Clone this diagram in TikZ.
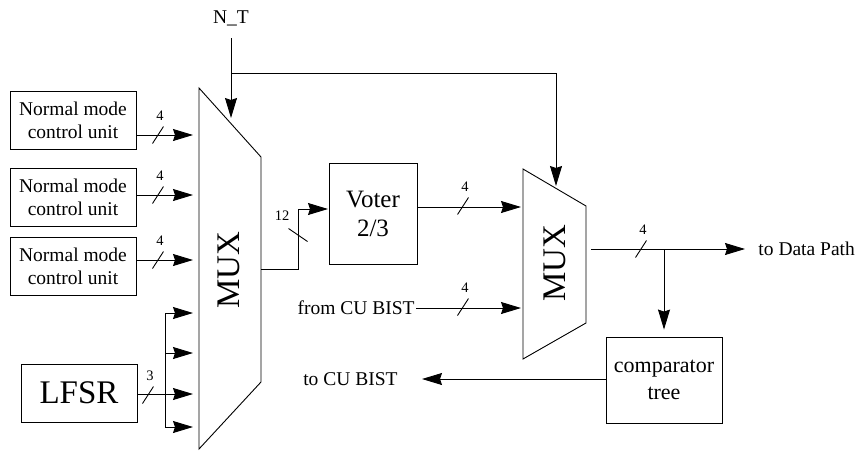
\documentclass[tikz,border=0pt]{standalone}
\usepackage{fontspec}
\setmainfont{Liberation Serif}
\usepackage{tikz}
\usetikzlibrary{arrows.meta, positioning, calc}
\def\slashW{5.5}
\def\slashH{8.5}
\newcommand{\busmark}[3]{%
% #1 = point on the bus, #2 = width, #3 = kind (1=slash, 2=backslash)

\ifnum#3=1
\draw
($(#1)+(-\slashW,\slashH)$) -- ($(#1)+(\slashW,-\slashH)$);
\node[buslabel] at ($(#1)+(2,-19)$) {#2};
\fi

% slash on a vertical bus
\ifnum#3=2
\draw
($(#1)+(-9.5,-6.5)$) -- ($(#1)+(9.5,6.5)$);
\node[buslabel] at ($(#1)+(-16,-19)$) {#2};
\fi
}

\begin{document}
\begin{tikzpicture}[
    x=1pt, y=-1pt,
    line width=0.9pt,
    >={Stealth[length=20pt,width=12pt,inset=2pt]},
    unit/.style={draw, rectangle, align=center, inner sep=0pt},
    cu/.style={unit, minimum width=126, minimum height=58, font=\fontsize{19.5}{23}\selectfont},
    buslabel/.style={inner sep=0pt, font=\fontsize{14.5}{16}\selectfont},
    txt/.style={inner sep=1pt, font=\fontsize{19.5}{23}\selectfont},
    muxtxt/.style={rotate=90, inner sep=0pt, font=\fontsize{33}{36}\selectfont}
]
\useasboundingbox (0,0) rectangle (858,450);

\node[cu] (cu1) at (73,120) {Normal mode\\control unit};
\node[cu] (cu2) at (73,197) {Normal mode\\control unit};
\node[cu] (cu3) at (73,266) {Normal mode\\control unit};
\node[unit, minimum width=116, minimum height=58, font=\fontsize{33}{36}\selectfont] (lfsr) at (79,393) {LFSR};
\node[unit, minimum width=88, minimum height=101, font=\fontsize{25}{29}\selectfont] (voter) at (373,213.5) {Voter\\2/3};
\node[unit, minimum width=116, minimum height=86, font=\fontsize{22}{27}\selectfont] (cmp) at (664,380) {comparator\\tree};

% the two multiplexers
\draw (199,88) -- (261,157) -- (261,382) -- (199,449) -- cycle;
\node[muxtxt] (mux1) at (229,270) {MUX};
\draw (523,169) -- (586,206) -- (586,323) -- (523,359) -- cycle;
\node[muxtxt] (mux2) at (555,263) {MUX};

\coordinate (in1) at (193,135);
\coordinate (in2) at (193,195);
\coordinate (in3) at (193,260);
\draw[->] (cu1.east |- in1) -- (in1);
\draw[->] (cu2.east |- in2) -- (in2);
\draw[->] (cu3.east |- in3) -- (in3);
\busmark{158,135}{4}{1}
\busmark{158,195}{4}{1}
\busmark{158,260}{4}{1}

% LFSR fans out to four inputs
\coordinate (l1) at (193,313);
\coordinate (l2) at (193,353);
\coordinate (l3) at (193,394);
\coordinate (l4) at (193,427);
\coordinate (lbus) at (165,394);
\draw (lfsr.east |- lbus) -- (lbus);
\draw[->] (lbus) |- (l1);
\draw[->] (lbus |- l2) -- (l2);
\draw[->] (lbus) -- (l3);
\draw[->] (lbus) |- (l4);
\busmark{148,395}{3}{1}

\coordinate (m1out) at (261,269);
\coordinate (vin) at (328,209);
\draw[->] (m1out) -- ++(37,0) |- (vin);
\busmark{298,235}{12}{2}

\coordinate (m2a) at (521,207);
\coordinate (m2b) at (521,308);
\draw[->] (voter.east |- m2a) -- (m2a);
\busmark{463,206}{4}{1}
\node[txt, anchor=east] (fromcu) at (416,308) {from CU BIST};
\draw[->] (fromcu.east) -- (m2b);
\busmark{463,307}{4}{1}

% select line
\coordinate (ntsrc) at (231,38);
\node[txt, above=11pt of ntsrc] (nt) {N\_T};
\coordinate (sel1) at (231,118);
\coordinate (ntj) at (231,73);
\coordinate (sel2) at (556,186);
\draw[->] (ntsrc) -- (sel1);
\draw[->] (ntj) -| (sel2);

\coordinate (m2out) at (591,249);
\coordinate (dp) at (745,249);
\node[txt, anchor=west, right=12pt of dp] (todp) {to Data Path};
\draw[->] (m2out) -- (dp);
\busmark{641,249}{4}{1}
\coordinate (br) at (664,249);
\draw[->, shorten >=7pt] (br) -- (cmp.north);
\coordinate (bist) at (422,379);
\node[txt, left=23pt of bist] (tocu) {to CU BIST};
\draw[->] (cmp.west |- bist) -- (bist);
\end{tikzpicture}
\end{document}
